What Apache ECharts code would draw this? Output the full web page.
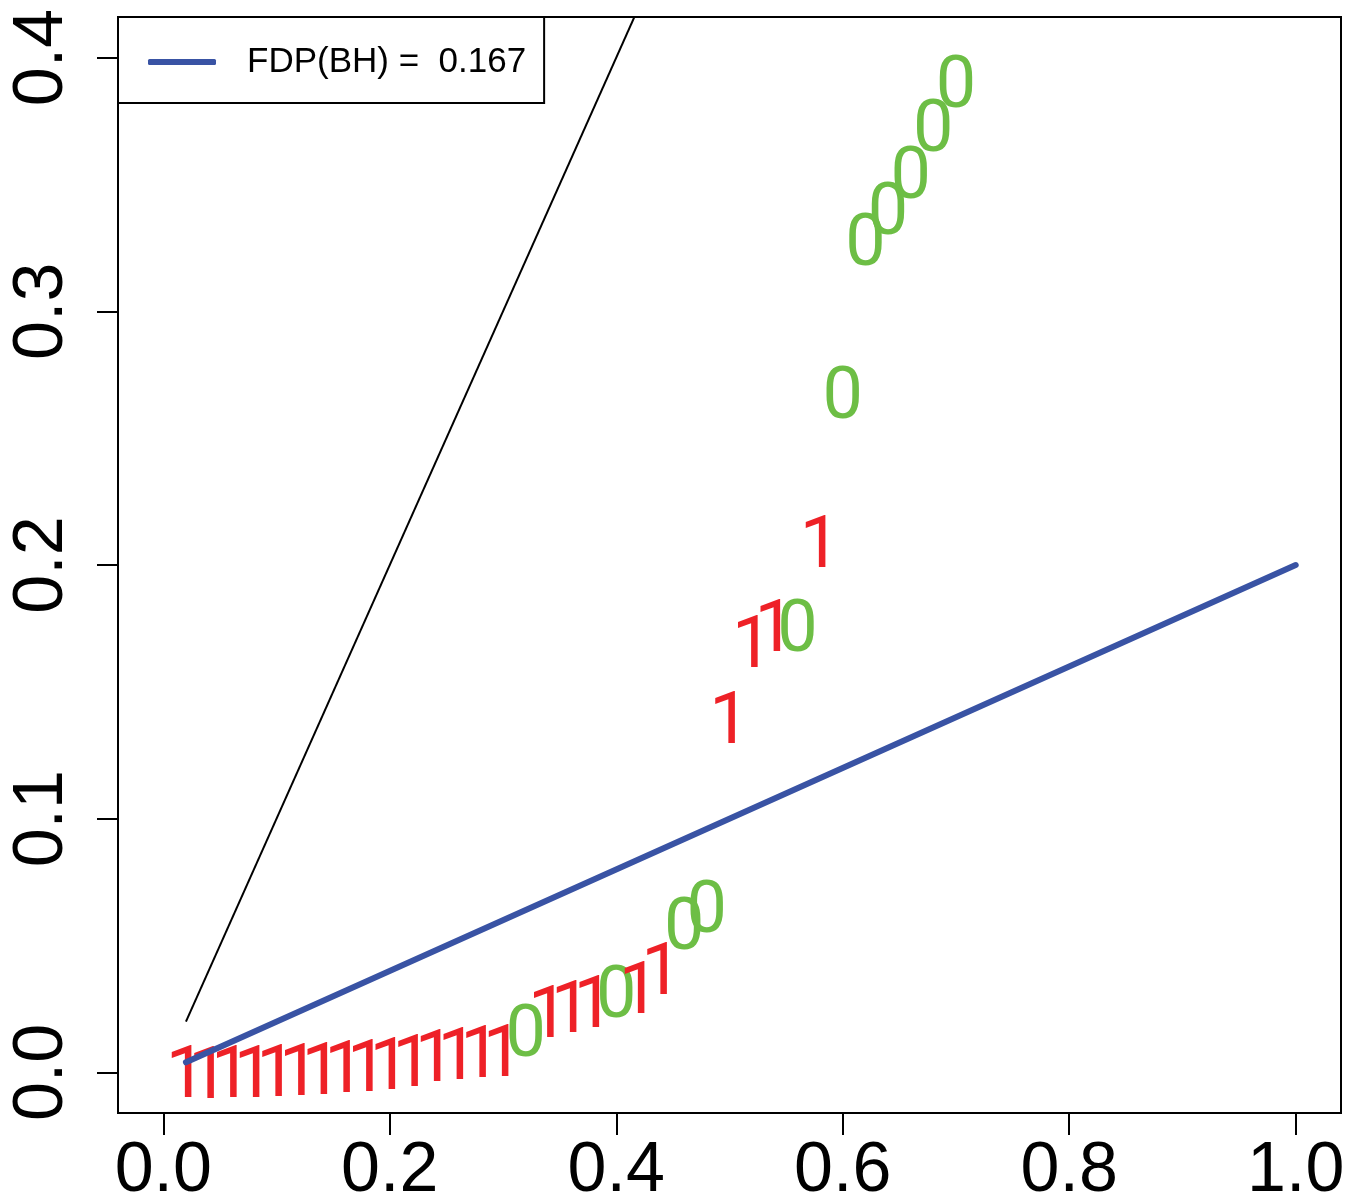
<!DOCTYPE html>
<html>
<head>
<meta charset="utf-8">
<script src="https://cdn.jsdelivr.net/npm/echarts@6/dist/echarts.min.js"></script>
<style>
html,body{margin:0;padding:0;background:#fff;}
#chart{width:1348px;height:1196px;}
</style>
</head>
<body>
<div id="chart"></div>
<script>
// rank positions i/n
var ranks = [0.02,0.04,0.06,0.08,0.10,0.12,0.14,0.16,0.18,0.20,0.22,0.24,0.26,0.28,0.30,
             0.32,0.34,0.36,0.38,0.40,0.42,0.44,0.46,0.48,0.50,0.52,0.54,0.56,0.58,0.60,
             0.62,0.64,0.66,0.68,0.70];
// sorted p-values
var pvals = [0.0006,0.0002,0.0006,0.0007,0.0011,0.0014,0.0018,0.0026,0.0030,0.0037,0.0049,0.0069,0.0077,0.0085,0.0089,
             0.0167,0.0242,0.0262,0.0281,0.0321,0.0337,0.0411,0.0589,0.0654,0.1402,0.1700,0.1764,0.1764,0.2093,0.2681,
             0.3283,0.3406,0.3551,0.3736,0.3906];
// truth labels (1 = non-null, 0 = null)
var truth = [1,1,1,1,1,1,1,1,1,1,1,1,1,1,1,
             0,1,1,1,0,1,1,0,0,1,1,1,0,1,0,
             0,0,0,0,0];
// reference lines
var lineX = [0.02, 1.0];
var diagY = [0.02, 1.0];
var bhY = [0.004, 0.2];
var xTicks = [0.0,0.2,0.4,0.6,0.8,1.0];
var yTicks = [0.0,0.1,0.2,0.3,0.4];
var legendLabel = 'FDP(BH) =  0.167';

var pts = [];
for (var i = 0; i < ranks.length; i++) pts.push([ranks[i], pvals[i], truth[i]]);

var FONT = 'Liberation Sans';
var MARKFONT = 'Roboto';
var chart = echarts.init(document.getElementById('chart'));
chart.setOption({
  animation: false,
  backgroundColor: '#fff',
  grid: {left: 118, top: 17, right: 7, bottom: 83, show: true, borderColor: '#000', borderWidth: 2,
    backgroundColor: 'transparent', containLabel: false, outerBoundsMode: 'none'},
  legend: {
    left: 118, top: 17,
    data: [{name: legendLabel, icon: 'roundRect'}],
    itemWidth: 68, itemHeight: 6,
    borderColor: '#000', borderWidth: 2,
    padding: [24, 18, 20, 30],
    textStyle: {fontFamily: FONT, fontSize: 35, color: '#000', padding: [0, 0, 0, 26], lineHeight: 42}
  },
  xAxis: {
    type: 'value', min: -0.04, max: 1.04,
    axisLine: {show: false, onZero: false},
    splitLine: {show: false},
    axisTick: {show: true, length: 22, lineStyle: {color: '#000', width: 2}, customValues: xTicks},
    axisLabel: {customValues: xTicks, color: '#000', fontFamily: FONT, fontSize: 70, margin: 24,
      formatter: function (v) { return v.toFixed(1); }}
  },
  yAxis: {
    type: 'value', min: -0.016, max: 0.416,
    axisLine: {show: false, onZero: false},
    splitLine: {show: false},
    axisTick: {show: true, length: 21, lineStyle: {color: '#000', width: 2}, customValues: yTicks},
    axisLabel: {customValues: yTicks, color: '#000', fontFamily: FONT, fontSize: 70, margin: 40, rotate: 90,
      formatter: function (v) { return v.toFixed(1); }}
  },
  series: [
    {
      type: 'custom',
      name: 'labels',
      coordinateSystem: 'cartesian2d',
      data: pts,
      z: 2,
      renderItem: function (params, api) {
        var p = api.coord([api.value(0), api.value(1)]);
        var t = api.value(2);
        return {
          type: 'text', x: p[0], y: p[1] + 8,
          style: {text: String(t), fill: t === 1 ? '#EE2127' : '#6DBE45',
            fontSize: 72, fontFamily: MARKFONT, align: 'center', verticalAlign: 'middle'}
        };
      }
    },
    {
      type: 'line', name: 'diag', data: [[lineX[0], diagY[0]], [lineX[1], diagY[1]]],
      showSymbol: false, symbol: 'none', clip: true, z: 3,
      lineStyle: {color: '#000', width: 2}
    },
    {
      type: 'line', name: legendLabel, data: [[lineX[0], bhY[0]], [lineX[1], bhY[1]]],
      showSymbol: false, symbol: 'none', clip: true, z: 4, color: '#3953A4',
      lineStyle: {color: '#3953A4', width: 6, cap: 'round'}
    }
  ]
});
</script>
</body>
</html>
